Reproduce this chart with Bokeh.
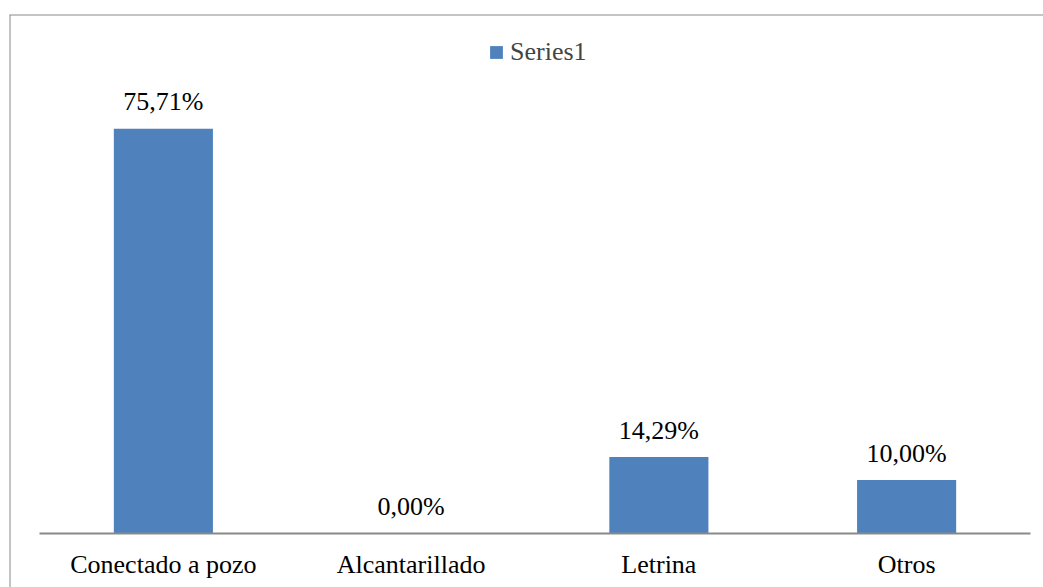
from bokeh.plotting import figure
from bokeh.models import Range1d, FixedTicker, Legend, LegendItem, ColumnDataSource, Span
from bokeh.core.properties import value
from bokeh.embed import file_html
from bokeh.resources import INLINE

categories = ["Conectado a pozo", "Alcantarillado", "Letrina", "Otros"]
values = [75.71, 0.00, 14.29, 10.00]
labels = ["75,71%", "0,00%", "14,29%", "10,00%"]
series_name = "Series1"

FONT = "Liberation Serif"
BAR = "#4F81BD"
GREY = "#898989"

xs = [i + 0.5 for i in range(len(categories))]
src = ColumnDataSource(dict(x=xs, top=values, label=labels))

px_x = 991 / len(categories)
px_y = 5.345
x_range = Range1d(-30 / px_x, len(categories) + 13 / px_x)
y_range = Range1d(-54 / px_y, 519 / px_y)
p = figure(width=1043, height=587, output_backend="svg", toolbar_location=None,
           x_range=x_range, y_range=y_range,
           min_border_left=9, min_border_top=14, min_border_right=0, min_border_bottom=0)
p.background_fill_color = "white"
p.border_fill_color = "white"
p.outline_line_color = None
p.xgrid.visible = False
p.ygrid.visible = False
p.yaxis.visible = False

# chart border (left and top edges)
p.add_layout(Span(location=x_range.start, dimension="height", line_color=GREY, line_width=2))
p.add_layout(Span(location=y_range.end, dimension="width", line_color=GREY, line_width=2))

r = p.vbar(x="x", top="top", width=0.4, source=src, fill_color=BAR, line_color=None)
p.text(x="x", y="top", text="label", source=src, text_align="center",
       text_baseline="alphabetic", y_offset=-27, text_font=value(FONT),
       text_font_size="26px", text_color="black")

ax = p.xaxis[0]
ax.fixed_location = 0
ax.bounds = (0, len(categories))
ax.ticker = FixedTicker(ticks=xs)
ax.major_label_overrides = {x: c for x, c in zip(xs, categories)}
ax.axis_line_color = GREY
ax.axis_line_width = 2
ax.major_tick_line_color = None
ax.minor_tick_line_color = None
ax.major_label_standoff = 10
ax.major_label_text_font = FONT
ax.major_label_text_font_size = "26px"
ax.major_label_text_color = "black"

legend = Legend(items=[LegendItem(label=series_name, renderers=[r])],
                location=(479, 520), orientation="horizontal",
                glyph_width=16, glyph_height=16, label_standoff=6,
                padding=0, margin=0, spacing=0,
                label_text_font=FONT, label_text_font_size="26px",
                border_line_color=None, background_fill_alpha=0)
p.add_layout(legend)

open("out.html", "w").write(file_html(p, INLINE))
